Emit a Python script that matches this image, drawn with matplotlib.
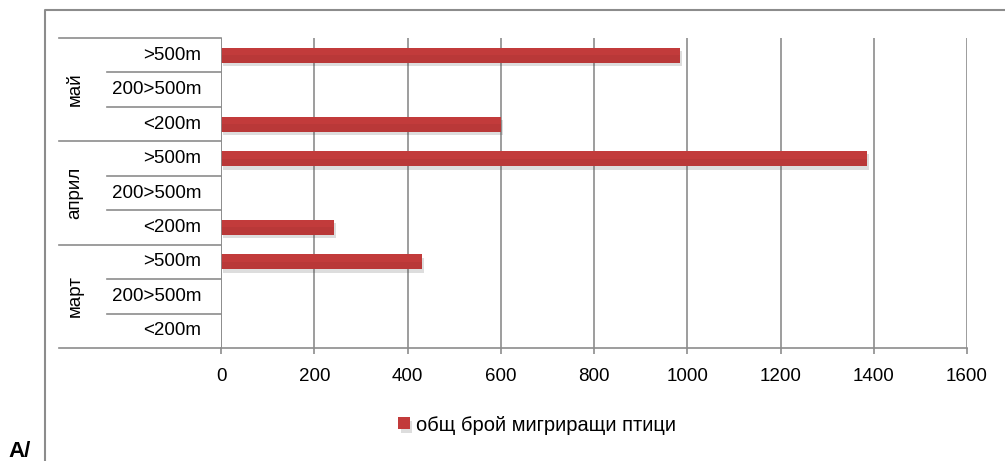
import matplotlib.pyplot as plt
import matplotlib.patheffects as pe
from matplotlib.lines import Line2D
from matplotlib.transforms import blended_transform_factory

plt.rcParams['font.family'] = ['Liberation Sans', 'DejaVu Sans']

months = ['март', 'април', 'май']
heights = ['<200m', '200>500m', '>500m']
# birds per month, ordered as in `heights`
mart = [0, 0, 431]
april = [242, 0, 1386]
mai = [600, 0, 985]
series_name = 'общ брой мигриращи птици'
xticks = [0, 200, 400, 600, 800, 1000, 1200, 1400, 1600]

values = mart + april + mai
labels = heights * len(months)
ypos = list(range(len(values)))

grid_col = '#8c8c8c'
bar_col = '#c23b3b'

fig = plt.figure(figsize=(10.05, 4.61), dpi=100)
ax = fig.add_axes([221 / 1005, 1 - 348 / 461, 746 / 1005, 310 / 461])

ax.barh(ypos, values, height=0.44, color=bar_col, label=series_name,
        zorder=3,
        path_effects=[pe.SimplePatchShadow(offset=(1.5, -2.5), alpha=0.18,
                                           shadow_rgbFace='#444444'),
                      pe.Normal()])
# darker lower half for a bit of shading
ax.barh([y - 0.11 for y in ypos], values, height=0.22, color='#a93333',
        alpha=0.35, zorder=3.5, linewidth=0)

ax.set_xlim(0, 1600)
ax.set_ylim(-0.5, len(values) - 0.5)
ax.set_xticks(xticks)
ax.set_xticklabels([str(t) for t in xticks])
ax.set_yticks([])
ax.xaxis.grid(True, color=grid_col, linewidth=1.2, zorder=0)
ax.tick_params(axis='x', length=4.5, width=1.2, color=grid_col,
               pad=10, labelsize=13.5)
for s in ('top', 'right', 'left'):
    ax.spines[s].set_visible(False)
ax.spines['bottom'].set_color(grid_col)
ax.spines['bottom'].set_linewidth(1.2)
ax.axvline(0, color=grid_col, linewidth=1.2, zorder=4)

# category table on the left: inner labels, outer rotated month names
tr = blended_transform_factory(ax.transAxes, ax.transData)
x_outer = (59 - 221) / 746
x_inner = (107 - 221) / 746
for i, lab in enumerate(labels):
    ax.text((201 - 221) / 746, i, lab, transform=tr, ha='right',
            va='center', fontsize=13.5)
for g, m in enumerate(months):
    ax.text((75 - 221) / 746, g * 3 + 1, m, transform=tr, ha='center',
            va='center', rotation=90, fontsize=13.5)
for k in range(len(values) + 1):
    yb = k - 0.5
    x0 = x_outer if k % 3 == 0 else x_inner
    ax.add_line(Line2D([x0, 0], [yb, yb], transform=tr, color=grid_col,
                       linewidth=1.2, clip_on=False))

ax.legend(loc='center', bbox_to_anchor=(537 / 1005, 1 - 425 / 461),
          bbox_transform=fig.transFigure, frameon=False, fontsize=14.5,
          handlelength=0.55, handleheight=0.55, handletextpad=0.3)

# frame around the chart
fig.add_artist(Line2D([45 / 1005, 45 / 1005, 1], [0, 1 - 10 / 461, 1 - 10 / 461],
                      transform=fig.transFigure, color=grid_col,
                      linewidth=1.5))
fig.text(8 / 1005, 4 / 461, 'A/', fontsize=16, fontweight='bold',
         ha='left', va='baseline')

fig.savefig('out.png', dpi=100)
